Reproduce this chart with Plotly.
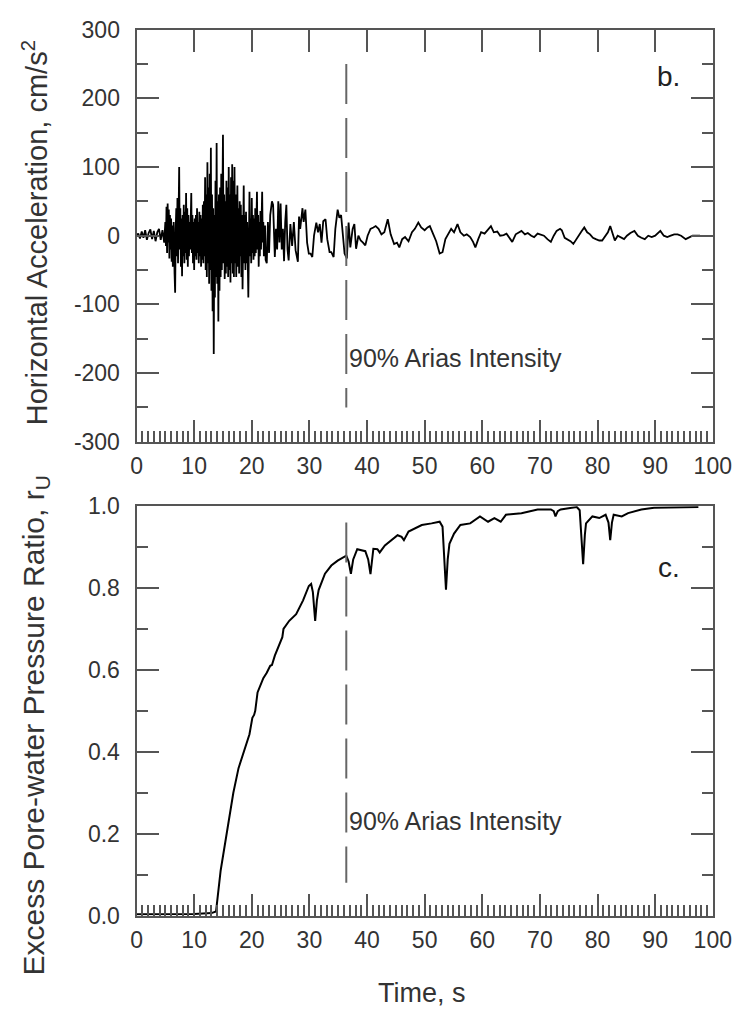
import plotly.graph_objects as go

# ---------------- data ----------------
# Horizontal acceleration record (time s, acceleration cm/s^2)
accel_pre = [
    (0.0, 0), (0.3, 3), (0.6, -4), (0.9, 6), (1.2, -3), (1.5, 8), (1.8, -6), (2.1, 4),
    (2.4, 9), (2.7, -5), (3.0, 7), (3.3, -8), (3.6, 5), (3.9, 10), (4.2, -6), (4.5, 8),
    (4.8, -10),
]
accel_strong = [
    (5.0, 20), (5.1, -15), (5.2, 42), (5.3, -25), (5.4, 47), (5.5, -10), (5.6, 38), (5.7, -33),
    (5.8, 30), (5.9, -20), (6.0, 25), (6.1, -38), (6.2, 15), (6.3, -45), (6.45, 20), (6.6, -55),
    (6.7, -83), (6.8, 10), (6.9, 40), (7.0, -30), (7.1, 55), (7.2, -40), (7.3, 30), (7.4, 100),
    (7.5, -20), (7.6, 40), (7.7, -45), (7.8, 25), (7.9, -59), (8.0, 30), (8.1, -30), (8.2, 45),
    (8.3, -40), (8.4, 35), (8.5, -25), (8.6, 62), (8.7, -35), (8.8, 40), (8.9, -45), (9.0, 30),
    (9.1, -30), (9.2, 20), (9.3, -20), (9.4, 35), (9.5, 62), (9.6, -25), (9.7, 30), (9.8, -40),
    (9.9, 20), (10.0, -50), (10.1, 25), (10.2, -30), (10.3, 30), (10.4, -35), (10.5, 40),
    (10.6, -25), (10.7, 20), (10.8, -40), (10.9, 35), (11.0, -30), (11.1, 30), (11.2, -45),
    (11.3, 25), (11.4, -35), (11.5, 45), (11.6, -40), (11.7, 50), (11.8, -30), (11.9, 85),
    (12.0, -50), (12.1, 60), (12.2, -60), (12.3, 107), (12.4, -40), (12.5, 70), (12.6, -70),
    (12.7, 90), (12.8, -50), (12.9, 128), (13.0, -80), (13.1, 60), (13.2, -110), (13.3, 40),
    (13.4, -172), (13.5, 30), (13.6, -90), (13.7, 80), (13.8, -60), (13.9, 135), (14.0, -70),
    (14.1, 50), (14.2, -125), (14.3, 60), (14.4, -80), (14.5, 70), (14.6, -60), (14.7, 90),
    (14.8, -50), (14.9, 110), (15.0, 147), (15.1, -40), (15.2, 60), (15.3, -63), (15.4, 50),
    (15.5, -55), (15.6, 80), (15.7, -45), (15.8, 70), (15.9, -60), (16.0, 100), (16.1, -50),
    (16.2, 60), (16.3, -68), (16.4, 85), (16.5, -40), (16.6, 104), (16.7, -55), (16.8, 80),
    (16.9, -60), (17.0, 100), (17.1, -40), (17.2, 60), (17.3, -60), (17.5, 73), (17.6, -45),
    (17.7, 40), (17.8, -55), (17.9, 50), (18.0, -30), (18.1, 45), (18.2, -60), (18.3, 30),
    (18.4, -78), (18.5, 40), (18.6, 73), (18.7, -40), (18.8, 30), (18.9, -50), (19.0, 35),
    (19.1, -40), (19.2, 20), (19.4, -90), (19.5, 20), (19.6, 64), (19.7, -30), (19.8, 25),
    (19.9, -40), (20.0, 55), (20.1, -25), (20.2, 30), (20.3, -35), (20.4, 25), (20.5, -30),
    (20.6, 40), (20.7, -25), (20.9, 64), (21.0, -20), (21.1, 30), (21.2, -45), (21.3, 20),
    (21.4, -30), (21.5, 36), (21.6, -20), (21.8, 64), (21.9, -10), (22.0, 20), (22.1, -30),
    (22.3, 15), (22.4, -35), (22.6, -40), (22.8, 20), (23.0, -25), (23.2, 30), (23.5, 50),
    (23.7, 45), (23.9, -20), (24.0, -31), (24.2, 10), (24.4, -20), (24.6, 50), (24.8, -10),
    (25.0, 47), (25.2, -20), (25.4, 10), (25.6, -37), (25.8, 20), (26.0, 45), (26.2, -20),
    (26.4, -36), (26.7, 17), (27.0, -15), (27.3, 20), (27.6, -21), (28.0, -38), (28.2, 28),
    (28.4, 10), (28.8, 40), (29.0, 20), (29.3, 38), (29.6, -10), (29.9, -26), (30.2, -26),
    (30.5, -31), (30.8, 0), (31.2, 19), (31.5, 5), (31.8, 17), (32.1, -10), (32.4, 21),
    (32.8, 24), (33.1, -5), (33.5, -24), (33.8, -24), (34.2, -31), (34.5, 10), (34.9, 38),
    (35.2, 26), (35.5, 30), (35.8, 5), (36.1, -26), (36.5, -33), (36.8, 19), (37.1, -17),
    (37.5, 10), (37.8, 17), (38.1, -19),
]
accel_coda = [
    (38.5, 0), (38.9, -7), (39.3, -10), (39.7, -14), (40.1, 0), (40.6, 10), (41.1, 12),
    (41.5, 14), (42.0, 10), (42.5, 2), (43.0, 5), (43.6, 24), (44.1, 2), (44.7, -12),
    (45.2, -10), (45.6, -17), (46.1, -5), (46.6, -2), (47.2, -8), (47.8, 5), (48.3, 10),
    (48.9, 19), (49.4, 12), (50.0, 8), (50.5, 12), (50.9, 14), (51.5, 2), (52.0, -8),
    (52.6, -26), (53.1, -24), (53.6, -5), (54.1, 3), (54.6, 10), (55.1, 5), (55.7, 17),
    (56.2, 5), (56.8, 0), (57.3, 2), (57.9, -2), (58.4, -9), (58.8, -17), (59.3, -5),
    (59.8, 5), (60.4, 3), (60.9, 8), (61.5, 14), (62.0, 5), (62.6, 6), (63.1, 0), (63.7, 1),
    (64.2, 3), (64.7, -3), (65.2, -9), (65.8, 2), (66.3, 4), (66.8, 7), (67.4, 2), (67.9, 4),
    (68.5, 0), (69.0, -2), (69.6, 3), (70.1, 2), (70.7, 0), (71.3, -5), (71.9, -9), (72.4, 0),
    (72.9, 7), (73.5, 10), (73.8, 8), (74.3, -3), (74.8, -5), (75.3, -8), (75.8, -12),
    (76.3, -5), (76.8, 0), (77.2, 6), (77.7, 12), (78.2, 5), (78.7, 2), (79.2, -3), (79.7, -5),
    (80.3, -7), (80.8, -7), (81.4, 0), (81.8, 5), (82.2, 14), (82.6, 2), (83.0, -7), (83.5, 0),
    (84.0, -2), (84.6, -5), (85.1, 0), (85.7, 4), (86.4, 7), (87.0, 0), (87.6, -3), (88.2, -5),
    (88.8, 0), (89.4, -2), (90.0, 0), (90.9, 7), (91.5, 0), (92.1, -2), (92.7, 0), (93.3, 2),
    (93.9, 2), (94.5, 0), (95.3, -5), (95.9, -2), (96.5, 0), (97.2, 0), (97.8, 0),
]

# Excess pore-water pressure ratio r_u (time s, r_u)
ru_curve = [
    (0.0, 0.003), (5.0, 0.003), (10.0, 0.004), (13.0, 0.006), (13.8, 0.01), (14.6, 0.11),
    (15.6, 0.20), (16.8, 0.30), (17.7, 0.36), (18.6, 0.40), (19.6, 0.443), (20.1, 0.483),
    (20.4, 0.49), (20.6, 0.50), (21.0, 0.545), (22.0, 0.58), (22.6, 0.593), (23.2, 0.61),
    (23.5, 0.612), (24.0, 0.635), (24.6, 0.657), (25.3, 0.68), (25.5, 0.70), (26.5, 0.72),
    (27.7, 0.736), (28.9, 0.77), (29.9, 0.805), (30.3, 0.81), (30.6, 0.79), (31.0, 0.72),
    (31.3, 0.77), (31.6, 0.795), (32.7, 0.835), (33.8, 0.855), (34.9, 0.867), (35.6, 0.872),
    (36.4, 0.879), (36.8, 0.865), (37.2, 0.835), (37.6, 0.87), (38.3, 0.895), (39.7, 0.89),
    (40.2, 0.87), (40.6, 0.834), (40.9, 0.88), (41.1, 0.896), (41.8, 0.895), (42.2, 0.887),
    (43.1, 0.904), (44.2, 0.917), (45.3, 0.929), (46.0, 0.925), (46.4, 0.917), (47.2, 0.938),
    (48.5, 0.948), (49.5, 0.954), (51.2, 0.958), (52.6, 0.962), (53.1, 0.95), (53.5, 0.86),
    (53.7, 0.796), (54.0, 0.87), (54.3, 0.908), (55.1, 0.933), (56.2, 0.954), (57.9, 0.958),
    (59.6, 0.975), (61.0, 0.962), (62.1, 0.971), (63.2, 0.962), (64.1, 0.979), (66.8, 0.983),
    (69.6, 0.992), (71.9, 0.992), (72.4, 0.988), (72.7, 0.975), (73.1, 0.988), (73.6, 0.992),
    (76.4, 0.998), (76.9, 0.99), (77.3, 0.90), (77.5, 0.858), (77.8, 0.93), (78.0, 0.958),
    (79.1, 0.975), (80.3, 0.971), (81.4, 0.979), (81.9, 0.96), (82.2, 0.917), (82.5, 0.96),
    (82.8, 0.979), (84.2, 0.975), (85.3, 0.983), (87.6, 0.992), (89.8, 0.996), (92.1, 0.997),
    (96.8, 0.998), (97.5, 0.998),
]

# Time at which 90 % of the Arias intensity has been reached
arias_90_time = 36.4
arias_acc_span = [250, -250]
arias_ru_span = [0.96, 0.08]

x_ticks = list(range(0, 101, 10))
acc_ticks = [-300, -200, -100, 0, 100, 200, 300]
acc_tick_text = ["-300", "-200", "-100", "0", "100", "200", "300"]
ru_ticks = [0.0, 0.2, 0.4, 0.6, 0.8, 1.0]
ru_tick_text = ["0.0", "0.2", "0.4", "0.6", "0.8", "1.0"]

# ---------------- figure ----------------
W, H = 755, 1026
FONT = "Liberation Sans, Arial, Helvetica, sans-serif"
AX = "#555555"
TXT = "#333333"


def px_x(p):
    return p / W


def px_y(p):
    return 1 - p / H


x_dom = [px_x(135), px_x(731)]
top_dom = [px_y(440), px_y(17)]
bot_dom = [px_y(926), px_y(506)]

acc_t = [p[0] for p in accel_pre + accel_strong + accel_coda]
acc_v = [p[1] for p in accel_pre + accel_strong + accel_coda]
ru_t = [p[0] for p in ru_curve]
ru_v = [p[1] for p in ru_curve]

fig = go.Figure()

fig.add_trace(go.Scatter(x=acc_t, y=acc_v, mode="lines", xaxis="x", yaxis="y",
                         line=dict(color="black", width=1.8), showlegend=False))
fig.add_trace(go.Scatter(x=[arias_90_time] * 2, y=arias_acc_span, mode="lines",
                         xaxis="x", yaxis="y", showlegend=False,
                         line=dict(color="#666666", width=2, dash="40px,14px")))
fig.add_trace(go.Scatter(x=ru_t, y=ru_v, mode="lines", xaxis="x2", yaxis="y2",
                         line=dict(color="black", width=2), showlegend=False))
fig.add_trace(go.Scatter(x=[arias_90_time] * 2, y=arias_ru_span, mode="lines",
                         xaxis="x2", yaxis="y2", showlegend=False,
                         line=dict(color="#666666", width=2, dash="40px,14px")))

# empty traces so the tick-only overlay axes get drawn
fig.add_trace(go.Scatter(x=[None], y=[None], xaxis="x3", yaxis="y", showlegend=False))
fig.add_trace(go.Scatter(x=[None], y=[None], xaxis="x", yaxis="y3", showlegend=False))
fig.add_trace(go.Scatter(x=[None], y=[None], xaxis="x2", yaxis="y4", showlegend=False))

tickfont = dict(family=FONT, size=23, color=TXT)
base = dict(showline=True, linecolor=AX, linewidth=2, mirror=True, ticks="inside",
            ticklen=22, tickwidth=2, tickcolor=AX, showgrid=False, zeroline=False,
            tickfont=tickfont, fixedrange=True)
overlay = dict(showline=False, ticks="inside", ticklen=22, tickwidth=2, tickcolor=AX,
               showgrid=False, zeroline=False, showticklabels=False, fixedrange=True)


def minor(step):
    return dict(ticks="inside", ticklen=11, tickwidth=1.5, tickcolor=AX, dtick=step,
                showgrid=False)


fig.update_layout(
    width=W, height=H, margin=dict(l=0, r=0, t=0, b=0),
    paper_bgcolor="white", plot_bgcolor="white", showlegend=False,
    xaxis=dict(base, domain=x_dom, anchor="y", range=[0, 100], tickvals=x_ticks,
               minor=minor(1), ticklabelstandoff=3),
    yaxis=dict(base, domain=top_dom, anchor="x", range=[-300, 300], tickvals=acc_ticks,
               ticktext=acc_tick_text, minor=minor(50), ticklabelstandoff=10),
    xaxis2=dict(base, domain=x_dom, anchor="y2", range=[0, 100], tickvals=x_ticks,
                minor=minor(1), ticklabelstandoff=3),
    yaxis2=dict(base, domain=bot_dom, anchor="x2", range=[0, 1], tickvals=ru_ticks,
                ticktext=ru_tick_text, minor=minor(0.1), ticklabelstandoff=10),
    xaxis3=dict(overlay, overlaying="x", anchor="y", side="top", range=[0, 100],
                tickvals=x_ticks),
    yaxis3=dict(overlay, overlaying="y", anchor="x", side="right", range=[-300, 300],
                tickvals=acc_ticks, minor=minor(50)),
    yaxis4=dict(overlay, overlaying="y2", anchor="x2", side="right", range=[0, 1],
                tickvals=ru_ticks, minor=minor(0.1)),
)


def label(text, cx, cy, size, color=TXT, angle=0, xanchor="center"):
    fig.add_annotation(text=text, x=px_x(cx), y=px_y(cy), xref="paper", yref="paper",
                       xanchor=xanchor, yanchor="middle", textangle=angle,
                       showarrow=False, font=dict(family=FONT, size=size, color=color))


label("b.", 685, 65, 28, color="#222222")
label("c.", 686, 569, 28, color="#222222")
label("90% Arias Intensity", 353, 354, 25, xanchor="left")
label("90% Arias Intensity", 353, 829, 25, xanchor="left")
label("Horizontal Acceleration, cm/s<sup>2</sup>", 30, 226, 29, angle=-90)
label("Excess Pore-water Pressure Ratio, r<sub>U</sub>", 30, 731, 30, angle=-90)
label("Time, s", 430, 1005, 27)

fig.write_html("out.html")
